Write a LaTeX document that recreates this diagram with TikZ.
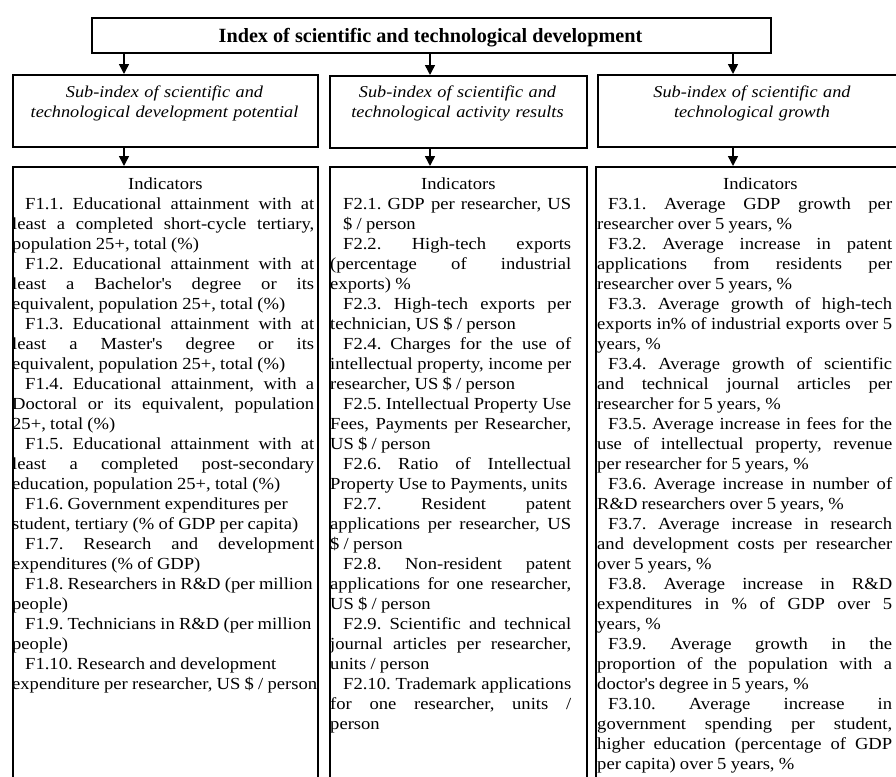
\documentclass[tikz,border=0pt]{standalone}
\usepackage{fontspec}
\setmainfont{Liberation Serif}[FakeStretch=1.10]
\newfontfamily\titlefont{Liberation Serif}
\usetikzlibrary{arrows.meta}
\newlength\myind
\newlength\colw
\newcommand\JLine[1]{\noindent\hbox to \colw{#1}\par}
\newcommand\NLine[1]{\noindent\hbox to \colw{#1\hss}\par}
\newcommand\Ind{\hspace*{\myind}}
\newcommand\apos{\textquotesingle}
\newcommand\colsetup[2]{\setlength\colw{#1}\setlength\myind{#2}\spaceskip=0.25em plus 0.6em minus 0.08em\relax}
\frenchspacing
\tikzset{
  boxst/.style={draw, line width=2pt, inner sep=0pt, anchor=north west},
  arr/.style={line width=1.5pt, -{Triangle[length=10pt,width=10pt]}},
  subtext/.style={anchor=base, text width=300pt, align=center, inner sep=0pt,
    font=\itshape\fontsize{16.6}{20}\selectfont},
  bodytext/.style={anchor=base west, inner sep=0pt,
    font=\fontsize{16.9}{20}\selectfont},
}
\begin{document}
\begin{tikzpicture}[x=1pt,y=-1pt]
\useasboundingbox (0,0) rectangle (896,776);
\clip (0,0) rectangle (896,776);
% top box
\node[boxst, minimum width=679pt, minimum height=35pt] (top) at (91,17) {};
\node[anchor=base, inner sep=0pt, font=\titlefont\bfseries\fontsize{20.2}{24}\selectfont] (toptext) at (430.5,43) {Index of scientific and technological development};
% sub-index boxes
\node[boxst, minimum width=305pt, minimum height=72pt] (sub1) at (12,74) {};
\node[boxst, minimum width=257pt, minimum height=72pt] (sub2) at (329,75) {};
\node[boxst, minimum width=311pt, minimum height=72pt] (sub3) at (597,74) {};
\node[subtext] (sub1t) at (164.5,97) {Sub-index of scientific and\\technological development potential};
\node[subtext] (sub2t) at (457.5,97) {Sub-index of scientific and\\technological activity results};
\node[subtext] (sub3t) at (752,97) {Sub-index of scientific and\\technological growth};
% indicator boxes
\node[boxst, minimum width=305pt, minimum height=640pt] (ind1) at (12,166) {};
\node[boxst, minimum width=257pt, minimum height=640pt] (ind2) at (329,166) {};
\node[boxst, minimum width=330pt, minimum height=640pt] (ind3) at (595,166) {};
% arrows
\coordinate (c1) at (124,0);
\coordinate (c2) at (430,0);
\coordinate (c3) at (733,0);
\draw[arr] (top.south -| c1) -- (sub1.north -| c1);
\draw[arr] (top.south -| c2) -- (sub2.north -| c2);
\draw[arr] (top.south -| c3) -- (sub3.north -| c3);
\draw[arr] (sub1.south -| c1) -- (ind1.north -| c1);
\draw[arr] (sub2.south -| c2) -- (ind2.north -| c2);
\draw[arr] (sub3.south -| c3) -- (ind3.north -| c3);
% left text
\node[bodytext, text width=302pt] (t1) at (12,189) {\colsetup{302pt}{13pt}%
\NLine{\hspace*{116pt}Indicators}
\JLine{\Ind F1.1. Educational attainment with at}
\JLine{least a completed short-cycle tertiary,}
\NLine{population 25+, total (\%)}
\JLine{\Ind F1.2. Educational attainment with at}
\JLine{least a Bachelor\apos s degree or its}
\NLine{equivalent, population 25+, total (\%)}
\JLine{\Ind F1.3. Educational attainment with at}
\JLine{least a Master\apos s degree or its}
\NLine{equivalent, population 25+, total (\%)}
\JLine{\Ind F1.4. Educational attainment, with a}
\JLine{Doctoral or its equivalent, population}
\NLine{25+, total (\%)}
\JLine{\Ind F1.5. Educational attainment with at}
\JLine{least a completed post-secondary}
\NLine{education, population 25+, total (\%)}
\NLine{\Ind F1.6. Government expenditures per}
\NLine{student, tertiary (\% of GDP per capita)}
\JLine{\Ind F1.7. Research and development}
\NLine{expenditures (\% of GDP)}
\NLine{\Ind F1.8. Researchers in R\&D (per million}
\NLine{people)}
\NLine{\Ind F1.9. Technicians in R\&D (per million}
\NLine{people)}
\NLine{\Ind F1.10. Research and development}
\NLine{expenditure per researcher, US \$ / person}
};
% middle text
\node[bodytext, text width=241pt] (t2) at (330,189) {\colsetup{241pt}{13pt}%
\NLine{\hspace*{91pt}Indicators}
\JLine{\Ind F2.1. GDP per researcher, US}
\NLine{\Ind \$ / person}
\JLine{\Ind F2.2. High-tech exports}
\JLine{(percentage of industrial}
\NLine{exports) \%}
\JLine{\Ind F2.3. High-tech exports per}
\NLine{technician, US \$ / person}
\JLine{\Ind F2.4. Charges for the use of}
\JLine{intellectual property, income per}
\NLine{researcher, US \$ / person}
\JLine{\Ind F2.5. Intellectual Property Use}
\JLine{Fees, Payments per Researcher,}
\NLine{US \$ / person}
\JLine{\Ind F2.6. Ratio of Intellectual}
\NLine{Property Use to Payments, units}
\JLine{\Ind F2.7. Resident patent}
\JLine{applications per researcher, US}
\NLine{\$ / person}
\JLine{\Ind F2.8. Non-resident patent}
\JLine{applications for one researcher,}
\NLine{US \$ / person}
\JLine{\Ind F2.9. Scientific and technical}
\JLine{journal articles per researcher,}
\NLine{units / person}
\JLine{\Ind F2.10. Trademark applications}
\JLine{for one researcher, units /}
\NLine{person}
};
% right text
\node[bodytext, text width=295pt] (t3) at (597,189) {\colsetup{295pt}{11pt}%
\NLine{\hspace*{126pt}Indicators}
\JLine{\Ind F3.1. Average GDP growth per}
\NLine{researcher over 5 years, \%}
\JLine{\Ind F3.2. Average increase in patent}
\JLine{applications from residents per}
\NLine{researcher over 5 years, \%}
\JLine{\Ind F3.3. Average growth of high-tech}
\JLine{exports in\% of industrial exports over 5}
\NLine{years, \%}
\JLine{\Ind F3.4. Average growth of scientific}
\JLine{and technical journal articles per}
\NLine{researcher for 5 years, \%}
\JLine{\Ind F3.5. Average increase in fees for the}
\JLine{use of intellectual property, revenue}
\NLine{per researcher for 5 years, \%}
\JLine{\Ind F3.6. Average increase in number of}
\NLine{R\&D researchers over 5 years, \%}
\JLine{\Ind F3.7. Average increase in research}
\JLine{and development costs per researcher}
\NLine{over 5 years, \%}
\JLine{\Ind F3.8. Average increase in R\&D}
\JLine{expenditures in \% of GDP over 5}
\NLine{years, \%}
\JLine{\Ind F3.9. Average growth in the}
\JLine{proportion of the population with a}
\NLine{doctor\apos s degree in 5 years, \%}
\JLine{\Ind F3.10. Average increase in}
\JLine{government spending per student,}
\JLine{higher education (percentage of GDP}
\NLine{per capita) over 5 years, \%}
};
\end{tikzpicture}
\end{document}
